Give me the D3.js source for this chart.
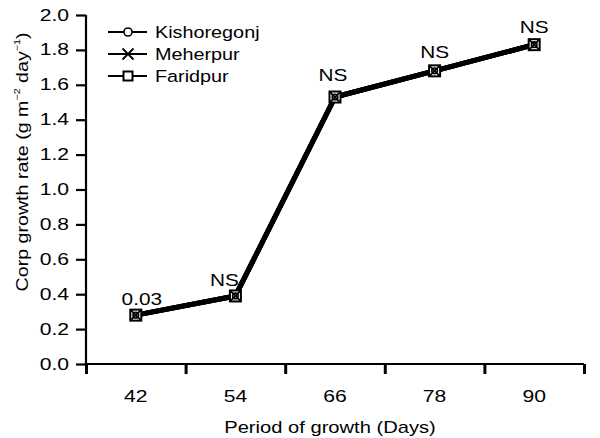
<!DOCTYPE html>
<html>
<head>
<meta charset="utf-8">
<script src="https://cdn.jsdelivr.net/npm/d3@7"></script>
<style>
  html, body { margin: 0; padding: 0; background: #fff; }
  svg { display: block; }
  text { font-family: "Liberation Sans", Arial, sans-serif; fill: #000; }
</style>
</head>
<body>
<svg id="chart" width="600" height="438"></svg>
<script>
// Sampling dates (days after sowing) and crop growth rate per location
const days = [42, 54, 66, 78, 90];
const kishoregonj = [0.28, 0.39, 1.53, 1.68, 1.83];
const meherpur    = [0.28, 0.39, 1.53, 1.68, 1.83];
const faridpur    = [0.28, 0.39, 1.53, 1.68, 1.83];
const seriesNames = ["Kishoregonj", "Meherpur", "Faridpur"];
const markerKinds = ["circle", "cross", "square"];
// Significance note printed above each sampling date
const notes = ["0.03", "NS", "NS", "NS", "NS"];
// Interval boundaries on the time axis (12-day periods)
const xBounds = [36, 48, 60, 72, 84, 96];
const yTicks = [0, 0.2, 0.4, 0.6, 0.8, 1.0, 1.2, 1.4, 1.6, 1.8, 2.0];

// nudges for the notes so they clear the line
const noteDx = [6, -11, -2, 0, 0];
const noteDy = [-10, -10, -16, -13, -12];

const W = 600, H = 438;
const m = { left: 86, right: 16, top: 15, bottom: 74 };
const svg = d3.select("#chart");

const x = d3.scaleLinear().domain([36, 96]).range([m.left, W - m.right]);
const y = d3.scaleLinear().domain([0, 2]).range([H - m.bottom, m.top]);

// text drawn with a wide (horizontally stretched) face
function wideText(g, tx, ty, str, anchor, size, sx, rot) {
  const t = g.append("text")
    .attr("transform", `translate(${tx},${ty})${rot ? ` rotate(${rot})` : ""} scale(${sx},1)`)
    .attr("text-anchor", anchor || "start")
    .attr("font-size", size);
  if (str !== null) t.text(str);
  return t;
}

// Y axis
const yAxis = svg.append("g")
  .attr("transform", `translate(${m.left},0)`)
  .call(d3.axisLeft(y).tickValues(yTicks).tickSize(10).tickFormat(""));
yAxis.select(".domain").attr("stroke-width", 2.2).attr("d", `M0,${y(0)}V${y(2)}`);
yAxis.selectAll(".tick line").attr("stroke-width", 2.2);
yTicks.forEach(v => {
  wideText(svg, m.left - 17, y(v) + 5.5, d3.format(".1f")(v), "end", 16, 1.32);
});

// X axis with boundary ticks
const xAxis = svg.append("g")
  .attr("transform", `translate(0,${y(0)})`)
  .call(d3.axisBottom(x).tickValues(xBounds).tickSize(10).tickFormat(""));
xAxis.select(".domain").attr("stroke-width", 2.2).attr("d", `M${x(36)},0H${x(96)}`);
xAxis.selectAll(".tick line").attr("stroke-width", 3);
days.forEach(d => {
  wideText(svg, x(d), y(0) + 38, String(d), "middle", 16, 1.32);
});

// Axis titles
wideText(svg, (x(36) + x(96)) / 2 - 5, H - 5, "Period of growth (Days)", "middle", 16, 1.26);
const yt = wideText(svg, 27.5, 162, null, "middle", 16.5, 1.19, -90);
yt.append("tspan").text("Corp growth rate (g m");
yt.append("tspan").attr("font-size", 9).attr("dy", -8).text("\u22122");
yt.append("tspan").attr("dy", 8).text(" day");
yt.append("tspan").attr("font-size", 9).attr("dy", -8).text("\u22121");
yt.append("tspan").attr("dy", 8).text(")");

// Lines
const allSeries = [kishoregonj, meherpur, faridpur];
const line = d3.line().x((v, i) => x(days[i])).y(v => y(v));
allSeries.forEach(vals => {
  svg.append("path").attr("d", line(vals))
    .attr("fill", "none").attr("stroke", "#000")
    .attr("stroke-width", 5).attr("stroke-linejoin", "round");
});

function marker(g, kind, cx, cy, s) {
  if (kind === "square") {
    g.append("rect").attr("x", cx - s).attr("y", cy - s)
      .attr("width", 2 * s).attr("height", 2 * s)
      .attr("fill", "#fff").attr("stroke", "#000").attr("stroke-width", 2);
  } else if (kind === "circle") {
    g.append("circle").attr("cx", cx).attr("cy", cy).attr("r", s)
      .attr("fill", "#fff").attr("stroke", "#000").attr("stroke-width", 1.6);
  } else {
    g.append("path")
      .attr("d", `M${cx - s},${cy - s}L${cx + s},${cy + s}M${cx - s},${cy + s}L${cx + s},${cy - s}`)
      .attr("stroke", "#000").attr("stroke-width", 1.8);
  }
}

// Markers: squares underneath, circles and crosses over them
const drawOrder = [2, 0, 1];
const plotSize = { circle: 2.8, cross: 5.5, square: 5.5 };
drawOrder.forEach(si => {
  allSeries[si].forEach((v, i) => {
    marker(svg, markerKinds[si], x(days[i]), y(v), plotSize[markerKinds[si]]);
  });
});

// Notes above points
days.forEach((d, i) => {
  wideText(svg, x(d) + noteDx[i], y(kishoregonj[i]) + noteDy[i], notes[i], "middle", 16, 1.3);
});

// Legend
const legendSize = { circle: 4, cross: 5.5, square: 4.5 };
const lg = svg.append("g");
seriesNames.forEach((name, i) => {
  const ly = 32 + i * 22;
  lg.append("line").attr("x1", 108).attr("x2", 147).attr("y1", ly).attr("y2", ly)
    .attr("stroke", "#000").attr("stroke-width", 2);
  marker(lg, markerKinds[i], 128, ly, legendSize[markerKinds[i]]);
  wideText(lg, 155, ly + 6, name, "start", 16.5, 1.2);
});
</script>
</body>
</html>
